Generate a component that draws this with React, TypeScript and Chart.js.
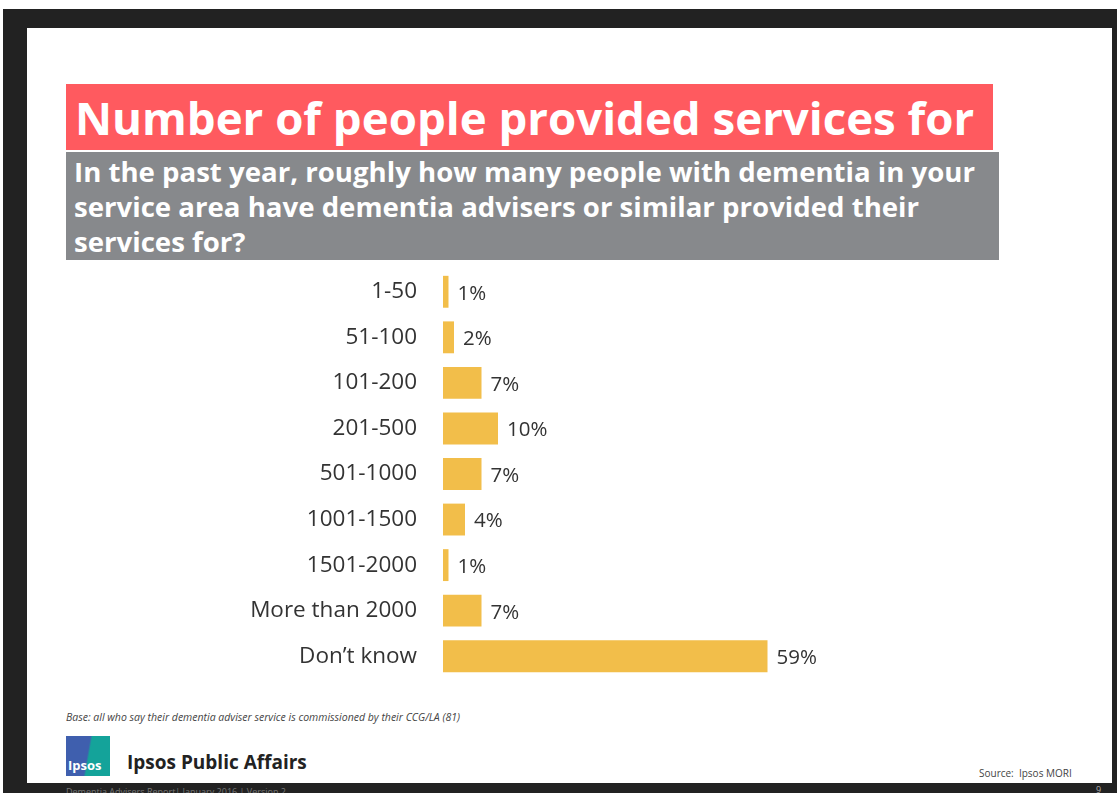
import React, { useEffect, useRef } from "react";
import { Chart, registerables } from "chart.js";

Chart.register(...registerables);

const categories = [
  "1-50",
  "51-100",
  "101-200",
  "201-500",
  "501-1000",
  "1001-1500",
  "1501-2000",
  "More than 2000",
  "Don\u2019t know",
];
const values = [1, 2, 7, 10, 7, 4, 1, 7, 59];
const valueLabels = ["1%", "2%", "7%", "10%", "7%", "4%", "1%", "7%", "59%"];

const FONT = "'Open Sans', 'Noto Sans', sans-serif";

const valueLabelPlugin = {
  id: "valueLabels",
  afterDatasetsDraw(chart: any) {
    const ctx = chart.ctx;
    const meta = chart.getDatasetMeta(0);
    ctx.save();
    ctx.font = `20.5px ${FONT}`;
    ctx.fillStyle = "#333333";
    ctx.textAlign = "left";
    ctx.textBaseline = "middle";
    meta.data.forEach((bar: any, i: number) => {
      ctx.fillText(valueLabels[i], bar.x + 9, bar.y + 2);
    });
    ctx.restore();
  },
};

function BarChart() {
  const ref = useRef<HTMLCanvasElement | null>(null);
  useEffect(() => {
    if (!ref.current) return;
    const chart = new Chart(ref.current, {
      type: "bar",
      data: {
        labels: categories,
        datasets: [
          {
            data: values,
            backgroundColor: "#F2BE4A",
            borderWidth: 0,
            barPercentage: 0.7,
            categoryPercentage: 1,
          },
        ],
      },
      options: {
        indexAxis: "y",
        animation: false,
        responsive: false,
        maintainAspectRatio: false,
        layout: { padding: 0 },
        plugins: {
          legend: { display: false },
          tooltip: { enabled: false },
          title: { display: false },
        },
        scales: {
          x: {
            display: false,
            min: 0,
            max: 74,
          },
          y: {
            grid: { display: false, drawTicks: false },
            border: { display: false },
            ticks: {
              color: "#333333",
              font: { family: FONT, size: 22.5 },
              padding: 26,
            },
            afterFit(scale: any) {
              scale.width = 243;
              scale.paddingTop = 0;
              scale.paddingBottom = 0;
            },
          },
        },
      },
      plugins: [valueLabelPlugin],
    });
    return () => chart.destroy();
  }, []);
  return (
    <canvas
      ref={ref}
      width={650}
      height={410}
      style={{ position: "absolute", left: 200, top: 269, width: 650, height: 410 }}
    />
  );
}

export default function App() {
  return (
    <div
      style={{
        position: "fixed",
        left: 0,
        top: 0,
        width: 1117,
        height: 793,
        background: "#ffffff",
        overflow: "hidden",
        fontFamily: FONT,
      }}
    >
      {/* dark frame */}
      <div style={{ position: "absolute", left: 3, top: 9, width: 1114, height: 784, background: "#222222" }} />
      <div style={{ position: "absolute", left: 27, top: 28, width: 1085, height: 755, background: "#ffffff" }} />

      {/* title */}
      <div
        style={{
          position: "absolute",
          left: 66,
          top: 84,
          width: 927,
          height: 66,
          background: "#FF5A5F",
          color: "#ffffff",
          fontWeight: 700,
          fontSize: 45.6,
          lineHeight: "66px",
          paddingLeft: 9,
          boxSizing: "border-box",
          whiteSpace: "nowrap",
        }}
      >
        Number of people provided services for
      </div>
      <div
        style={{
          position: "absolute",
          left: 66,
          top: 152,
          width: 933,
          height: 108,
          background: "#87898C",
          color: "#ffffff",
          fontWeight: 700,
          fontSize: 27.6,
          lineHeight: "35px",
          paddingLeft: 8,
          paddingTop: 2,
          boxSizing: "border-box",
          whiteSpace: "nowrap",
        }}
      >
        In the past year, roughly how many people with dementia in your
        <br />
        service area have dementia advisers or similar provided their
        <br />
        services for?
      </div>

      <BarChart />

      {/* footer */}
      <div
        style={{
          position: "absolute",
          left: 66,
          top: 710,
          fontSize: 10.5,
          fontStyle: "italic",
          color: "#444444",
          whiteSpace: "nowrap",
        }}
      >
        Base: all who say their dementia adviser service is commissioned by their CCG/LA (81)
      </div>
      <div
        style={{
          position: "absolute",
          left: 66,
          top: 736,
          width: 44,
          height: 40,
          background: "linear-gradient(100deg, #3F5FAE 0%, #3F5FAE 48%, #14A39A 52%, #14A39A 100%)",
          color: "#ffffff",
          fontSize: 13,
          fontWeight: 700,
          lineHeight: "14px",
          paddingTop: 22,
          paddingLeft: 2,
          boxSizing: "border-box",
        }}
      >
        Ipsos
      </div>
      <div
        style={{
          position: "absolute",
          left: 127,
          top: 749,
          fontSize: 19,
          fontWeight: 700,
          color: "#222222",
          whiteSpace: "nowrap",
        }}
      >
        Ipsos Public Affairs
      </div>
      <div
        style={{
          position: "absolute",
          left: 979,
          top: 766,
          fontSize: 10,
          color: "#444444",
          whiteSpace: "nowrap",
        }}
      >
        Source:&nbsp; Ipsos MORI
      </div>
      <div
        style={{
          position: "absolute",
          left: 66,
          top: 785,
          fontSize: 9,
          color: "#777777",
          whiteSpace: "nowrap",
        }}
      >
        Dementia Advisers Report| January 2016 | Version 2
      </div>
      <div
        style={{
          position: "absolute",
          left: 1096,
          top: 783,
          fontSize: 9,
          color: "#aaaaaa",
        }}
      >
        9
      </div>
    </div>
  );
}
